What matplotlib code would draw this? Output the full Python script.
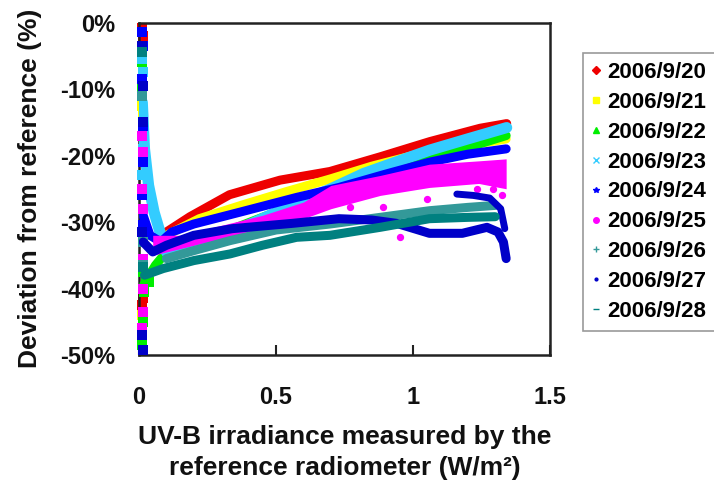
import matplotlib
matplotlib.use("Agg")
import matplotlib.pyplot as plt
from matplotlib.lines import Line2D
from matplotlib.ticker import FuncFormatter

plt.rcParams['font.family'] = ['Liberation Sans', 'DejaVu Sans']

# series labels / styles
dates = ['2006/9/20', '2006/9/21', '2006/9/22', '2006/9/23', '2006/9/24',
         '2006/9/25', '2006/9/26', '2006/9/27', '2006/9/28']
colors = ['#EE0000', '#FFFF00', '#00EE00', '#33CCFF', '#0000FF',
          '#FF00FF', '#339999', '#0000C8', '#008080']
markers = ['D', 's', '^', 'x', '*', 'o', '+', '.', '_']

# main bands (x in W/m2, y in %)
x20 = [0.10, 0.186, 0.33, 0.515, 0.697, 0.88, 1.062, 1.245, 1.342]
y20 = [-31.5, -29.2, -25.9, -23.7, -22.4, -20.2, -17.9, -15.9, -15.2]
x21 = [0.10, 0.22, 0.38, 0.54, 0.70, 0.85, 1.00, 1.15, 1.30, 1.34]
y21 = [-32.0, -29.5, -27.4, -25.4, -23.5, -21.6, -20.0, -18.8, -17.8, -17.5]
x22 = [0.01, 0.03, 0.06, 0.10, 0.25, 0.50, 0.75, 1.00, 1.20, 1.34]
y22 = [-40.0, -38.5, -36.5, -34.5, -32.5, -28.5, -24.5, -21.0, -18.8, -17.0]
x23 = [0.012, 0.02, 0.035, 0.055, 0.08, 0.10, 0.20, 0.33, 0.45, 0.575, 0.70, 0.82, 0.95, 1.06, 1.20, 1.342]
y23 = [-12.0, -19.0, -24.5, -28.5, -32.0, -34.5, -33.3, -31.7, -29.5, -27.2, -25.0, -22.7, -20.8, -19.2, -17.5, -15.8]
x24 = [0.015, 0.04, 0.08, 0.12, 0.20, 0.37, 0.575, 0.73, 0.90, 1.06, 1.20, 1.34]
y24 = [-29.0, -32.0, -33.0, -31.5, -30.3, -28.5, -26.3, -24.8, -22.8, -21.0, -19.8, -19.0]
x25 = [0.05, 0.15, 0.30, 0.45, 0.60, 0.70, 0.88, 1.06, 1.24, 1.34]
y25_lo = [-35.0, -34.0, -32.5, -31.0, -29.5, -28.0, -26.0, -24.8, -24.2, -25.0]
y25_hi = [-32.0, -32.0, -30.5, -29.0, -27.0, -24.5, -23.0, -21.3, -20.8, -20.5]
x26 = [0.10, 0.20, 0.332, 0.50, 0.697, 0.88, 1.06, 1.20, 1.30]
y26 = [-35.5, -34.3, -32.8, -31.2, -30.3, -29.3, -28.3, -27.8, -27.5]
x27 = [0.015, 0.05, 0.10, 0.20, 0.34, 0.56, 0.73, 0.85, 0.94, 1.06, 1.18, 1.27, 1.31, 1.33, 1.34]
y27 = [-33.0, -34.5, -33.5, -32.0, -31.0, -30.2, -29.5, -29.7, -30.2, -31.7, -31.7, -30.8, -31.5, -33.0, -35.5]
x27b = [1.16, 1.22, 1.28, 1.32, 1.335]
y27b = [-25.8, -26.0, -26.4, -28.0, -31.0]
x28 = [0.02, 0.088, 0.20, 0.332, 0.45, 0.575, 0.697, 0.88, 1.06, 1.20, 1.30]
y28 = [-38.0, -37.0, -35.8, -34.8, -33.5, -32.3, -32.0, -30.8, -29.5, -29.3, -29.2]

# scattered low-irradiance points near x = 0
lx20 = [0.012, 0.014, 0.016, 0.012]
ly20 = [-0.8, -2.0, -41.5, -42.5]
lx21 = [0.012, 0.016, 0.012]
ly21 = [-12.5, -13.8, -44.0]
lx22 = [0.012, 0.012, 0.015, 0.025, 0.035, 0.020, 0.014, 0.012]
ly22 = [-6.0, -10.0, -37.5, -38.5, -39.0, -40.5, -45.0, -48.5]
lx23 = [0.012, 0.014, 0.012, 0.016, 0.012]
ly23 = [-5.5, -7.5, -17.0, -19.0, -23.0]
lx24 = [0.012, 0.014, 0.012, 0.013, 0.016, 0.012, 0.014]
ly24 = [-1.5, -3.5, -8.5, -15.5, -21.0, -26.0, -30.5]
lx25 = [0.012, 0.014, 0.012, 0.013, 0.016, 0.013, 0.012, 0.014]
ly25 = [-17.0, -19.5, -25.0, -28.0, -35.5, -43.5, -46.0, -40.0]
lx26 = [0.012, 0.014, 0.013]
ly26 = [-11.0, -36.5, -33.0]
lx27 = [0.012, 0.014, 0.013, 0.012, 0.013, 0.012]
ly27 = [-3.5, -9.5, -15.0, -47.0, -49.3, -31.5]
lx28 = [0.012, 0.014]
ly28 = [-4.5, -36.8]

# magenta outliers
ox25 = [1.05, 0.953, 0.892, 0.77, 1.232, 1.293, 1.324]
oy25 = [-26.5, -32.3, -27.7, -27.7, -25.0, -25.0, -26.0]

bands = [(x20, y20), (x21, y21), (x22, y22), (x23, y23), (x24, y24),
         None, (x26, y26), (x27, y27), (x28, y28)]
lows = [(lx20, ly20), (lx21, ly21), (lx22, ly22), (lx23, ly23), (lx24, ly24),
        (lx25, ly25), (lx26, ly26), (lx27, ly27), (lx28, ly28)]

fig = plt.figure(figsize=(7.14, 4.95), dpi=100)
ax = fig.add_axes([0.1947, 0.2828, 0.5756, 0.6717])

for i in range(9):
    c = colors[i]
    z = 2 + i
    if bands[i] is not None:
        lw = 8 if i == 3 else 6.5
        ax.plot(bands[i][0], bands[i][1], color=c, lw=lw, solid_capstyle='round',
                solid_joinstyle='round', zorder=z)
    else:
        ax.fill_between(x25, y25_lo, y25_hi, color=c, lw=0, zorder=z)
        ax.scatter(ox25, oy25, s=18, color=c, zorder=z)
    if i == 7:
        ax.plot(x27b, y27b, color=c, lw=5, solid_capstyle='round', zorder=z)
    ax.scatter(lows[i][0], lows[i][1], s=45, marker='s', color=c, lw=0, zorder=z,
               clip_on=False)

ax.set_xlim(0, 1.5)
ax.set_ylim(-50, 0)
ax.set_xticks([0, 0.5, 1, 1.5])
ax.set_xticklabels(['0', '0.5', '1', '1.5'])
ax.set_yticks([0, -10, -20, -30, -40, -50])
ax.yaxis.set_major_formatter(FuncFormatter(lambda v, p: '%d%%' % v))
ax.tick_params(axis='x', direction='in', length=7, width=1.5, pad=22,
               labelsize=17, color='#222222')
ax.tick_params(axis='y', direction='in', length=0, pad=17, labelsize=17)
for lab in ax.get_xticklabels() + ax.get_yticklabels():
    lab.set_fontweight('bold')
    lab.set_color('#111111')
for sp in ax.spines.values():
    sp.set_linewidth(1.8)
    sp.set_color('#222222')

ax.set_xlabel('UV-B irradiance measured by the\nreference radiometer (W/m\u00b2)',
              fontsize=19, fontweight='bold', linespacing=1.4, color='#111111')
ax.xaxis.set_label_coords(0.5, -0.21)
ax.set_ylabel('Deviation from reference (%)', fontsize=19, fontweight='bold', color='#111111')
ax.yaxis.label.set_va('center')
ax.yaxis.set_label_coords(-0.265, 0.5)

handles = [Line2D([], [], ls='none', marker=markers[i], color=colors[i], ms=4, mew=1)
           for i in range(9)]
leg = fig.legend(handles, dates, loc='upper left', bbox_to_anchor=(0.8165, 0.893),
                 prop={'size': 16, 'weight': 'bold'}, frameon=True, fancybox=False,
                 borderpad=0.4, borderaxespad=0, handlelength=0.35, handletextpad=0.35,
                 labelspacing=0.4)
leg.get_frame().set_edgecolor('#808080')
leg.get_frame().set_linewidth(1.2)

fig.savefig('out.png', dpi=100)
